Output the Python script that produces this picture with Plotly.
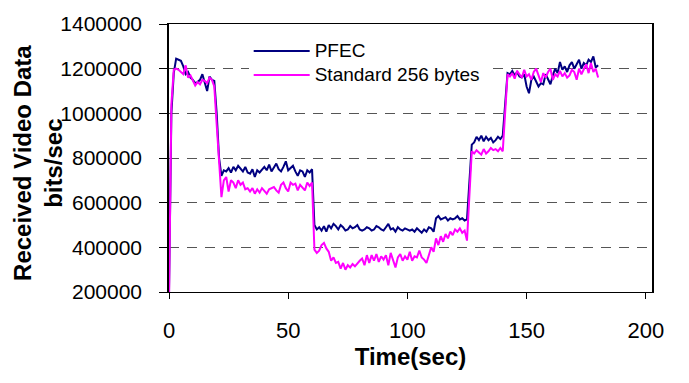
import plotly.graph_objects as go

time_sec = list(range(0, 181))

pfec = [
    200, 1000, 1180, 1245, 1240, 1235, 1210, 1175, 1185, 1160,
    1150, 1135, 1140, 1150, 1175, 1140, 1100, 1165, 1150, 1145,
    1000, 800, 720, 745, 740, 755, 735, 760, 745, 765,
    750, 740, 760, 735, 730, 750, 715, 745, 735, 750,
    760, 745, 770, 740, 755, 775, 750, 740, 760, 785,
    745, 755, 765, 740, 720, 745, 740, 715, 745, 735,
    750, 500, 480, 490, 475, 495, 470, 500, 485, 505,
    495, 480, 500, 490, 475, 480, 495, 485, 490, 500,
    480, 475, 480, 490, 485, 475, 480, 495, 490, 480,
    475, 490, 505, 480, 485, 470, 490, 480, 475, 485,
    480, 475, 480, 470, 485, 475, 465, 480, 470, 490,
    485, 470, 530, 540, 525, 530, 535, 520, 530, 525,
    530, 540, 525, 530, 520, 525, 700, 860, 870, 895,
    880, 900, 875, 895, 880, 890, 870, 880, 895, 885,
    900, 1050, 1180, 1175, 1190, 1170, 1185, 1165, 1160, 1175,
    1120, 1090, 1150, 1165, 1140, 1120, 1135, 1130, 1175, 1150,
    1130, 1170, 1200, 1180, 1230, 1195, 1210, 1185, 1215, 1230,
    1200, 1220, 1240, 1200, 1225, 1215, 1240, 1230, 1255, 1205,
    1215,
]

standard_256 = [
    150, 1040, 1195, 1200, 1195, 1185, 1175, 1215, 1160, 1170,
    1145, 1125, 1140, 1130, 1150, 1145, 1135, 1160, 1150, 1120,
    950, 760, 625, 700, 715, 650, 700, 690, 665, 700,
    680, 690, 660, 665, 650, 665, 640, 660, 645, 665,
    650, 640, 660, 665, 670, 655, 645, 680, 690, 665,
    650, 690, 680, 685, 655, 680, 665, 655, 690, 675,
    690, 390, 375, 385, 410, 420, 395, 380, 340, 355,
    330, 335, 305, 330, 300, 320, 310, 325, 315, 330,
    340, 350, 320, 365, 330, 365, 340, 370, 335, 360,
    345, 365, 320, 375, 340, 310, 355, 370, 340, 360,
    345, 380, 340, 360, 355, 385, 355, 345, 330, 370,
    400, 380, 440, 410, 450, 425, 460, 440, 470, 455,
    480, 470, 485, 465, 475, 430, 650, 830, 820, 835,
    825, 815, 840, 820, 830, 845, 835, 840, 830, 845,
    830, 1000, 1175, 1165, 1180, 1155, 1190, 1175, 1160, 1195,
    1165, 1175, 1150, 1185, 1200, 1170, 1140, 1180, 1160, 1185,
    1200, 1150, 1175, 1165, 1190, 1165, 1180, 1160, 1170, 1195,
    1185, 1150, 1200, 1175, 1195, 1220, 1180, 1225, 1185, 1200,
    1160,
]

y_ticks = [200000, 400000, 600000, 800000, 1000000, 1200000, 1400000]
x_ticks = [0, 50, 100, 150, 200]

FONT = "Arial, Liberation Sans, sans-serif"

fig = go.Figure()
fig.add_trace(go.Scatter(
    x=time_sec, y=[v * 1000 for v in pfec], mode="lines",
    name="<span style='font-size:19px'>PFEC</span>",
    line=dict(color="#000080", width=2),
))
fig.add_trace(go.Scatter(
    x=time_sec, y=[v * 1000 for v in standard_256], mode="lines",
    name="<span style='font-size:19px'>Standard 256 bytes</span>",
    line=dict(color="#FF00FF", width=2),
))

fig.update_layout(
    width=689, height=383,
    margin=dict(l=169, r=37, t=21, b=91),
    paper_bgcolor="white", plot_bgcolor="white",
    font=dict(family=FONT, color="black", size=21),
    showlegend=True,
    legend=dict(
        x=0.165, y=0.962, xanchor="left", yanchor="top",
        bgcolor="white", borderwidth=0,
        font=dict(size=16, family=FONT, color="black"),
        itemwidth=56, tracegroupgap=0,
    ),
    xaxis=dict(
        range=[0, 202.6], tickvals=x_ticks, ticktext=[str(v) for v in x_ticks],
        showgrid=False, zeroline=False,
        showline=True, linecolor="black", linewidth=1, mirror=True,
        ticks="outside", ticklen=6, tickcolor="black", tickwidth=1,
        ticklabelstandoff=13,
        tickfont=dict(size=22, family=FONT),
        title=dict(text="<b>Time(sec)</b>", font=dict(size=24, family=FONT), standoff=2),
    ),
    yaxis=dict(
        range=[200000, 1400000], tickvals=y_ticks, ticktext=[str(v) for v in y_ticks],
        showgrid=True, gridcolor="#555555", gridwidth=1.3, griddash="10px,8px",
        zeroline=False,
        showline=True, linecolor="black", linewidth=1.5, mirror=True,
        ticks="outside", ticklen=8, tickcolor="black", tickwidth=1,
        ticklabelstandoff=13,
        tickfont=dict(size=21, family=FONT),
    ),
    annotations=[dict(
        text="<b>Received Video Data<br>bits/sec</b>",
        xref="paper", yref="paper", x=-0.27, y=0.48,
        xanchor="center", yanchor="middle", textangle=-90, showarrow=False,
        font=dict(size=24, family=FONT, color="black"),
    )],
)

fig.write_html("out.html")
